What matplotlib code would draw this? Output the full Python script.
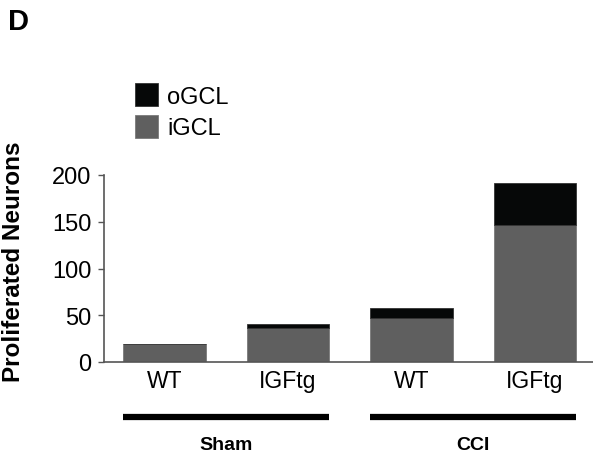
import matplotlib
matplotlib.use("Agg")
import matplotlib.pyplot as plt
import numpy as np

# values
genotypes = ["WT", "IGFtg", "WT", "IGFtg"]
igcl = [19, 36.5, 47, 146.5]
ogcl = [0, 4.5, 10.5, 44.5]
groups = ["Sham", "CCI"]
group_bars = [(0, 1), (2, 3)]

plt.rcParams['font.family'] = ['Liberation Sans', 'DejaVu Sans']

fig = plt.figure(figsize=(5.93, 4.60), dpi=100)
ax = fig.add_axes([104/593, (460-363)/460, 1 - 104/593, 187/460])

x = np.arange(len(genotypes))
w = 0.67
ax.bar(x, igcl, w, color='#5f5f5f', edgecolor='#7a7a7a', linewidth=0.6, label='iGCL', zorder=2)
ax.bar(x, ogcl, w, bottom=igcl, color='#060808', edgecolor='#333333', linewidth=0.6, label='oGCL', zorder=2)

ax.set_xlim(-0.49, 3.47)
ax.set_ylim(0, 200)
ax.set_yticks([0, 50, 100, 150, 200])
ax.tick_params(axis='y', labelsize=17, length=4, width=1, color='#555555', pad=5)
ax.tick_params(axis='x', length=0, labelsize=16.5, pad=5)
ax.set_xticks(x)
ax.set_xticklabels(genotypes)
for s in ['top', 'right']:
    ax.spines[s].set_visible(False)
for s in ['left', 'bottom']:
    ax.spines[s].set_color('#555555')
    ax.spines[s].set_linewidth(1.2)

ax.set_ylabel('Proliferated Neurons', fontsize=17.5, fontweight='bold')
ax.yaxis.set_label_coords(-0.162, 0.54)

# group bars and labels under the axis
trans = ax.get_xaxis_transform()
for name, (a, b) in zip(groups, group_bars):
    ax.plot([x[a] - w/2, x[b] + w/2], [-0.294, -0.294], color='black', lw=4.5,
            transform=trans, clip_on=False, solid_capstyle='butt')
    ax.text((x[a] + x[b]) / 2, -0.44, name, transform=trans, ha='center', va='center',
            fontsize=14, fontweight='bold')

handles, labels = ax.get_legend_handles_labels()
leg = fig.legend(handles[::-1], labels[::-1], loc='upper left', bbox_to_anchor=(126/593, 1 - 75/460),
                 frameon=False, fontsize=17, handlelength=0.95, handleheight=1.1,
                 handletextpad=0.4, labelspacing=0.3, borderaxespad=0)

fig.text(8/593, 1 - 22/460, 'D', fontsize=21, fontweight='bold', va='center', ha='left')

fig.savefig('out.png', dpi=100)
